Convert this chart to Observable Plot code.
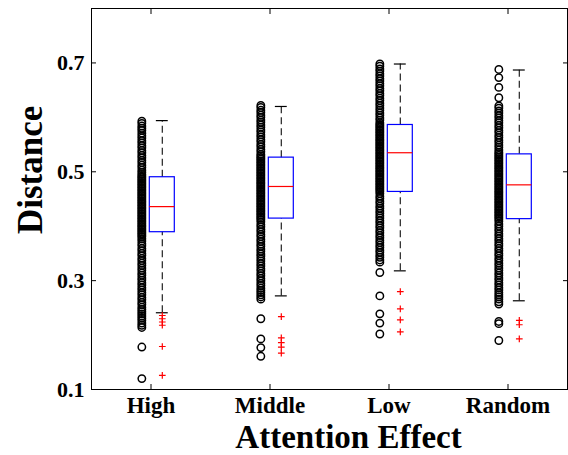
<!DOCTYPE html>
<html><head><meta charset="utf-8">
<script src="https://cdn.jsdelivr.net/npm/d3@7"></script>
<script src="https://cdn.jsdelivr.net/npm/@observablehq/plot@0.6"></script>
<style>body{margin:0;background:#fff} svg{display:block}</style>
</head><body><div id="chart"></div>
<script>
// ---- data ----
const categories = ["High", "Middle", "Low", "Random"];
const yTicks = [0.1, 0.3, 0.5, 0.7];
const q1 = [0.389, 0.414, 0.463, 0.413];
const median = [0.436, 0.473, 0.535, 0.476];
const q3 = [0.490, 0.526, 0.586, 0.532];
const whiskerLow = [0.241, 0.272, 0.318, 0.263];
const whiskerHigh = [0.594, 0.620, 0.698, 0.687];

const outliersHigh = [0.236, 0.230, 0.224, 0.218, 0.179, 0.126];
const outliersMiddle = [0.234, 0.195, 0.186, 0.178, 0.167];
const outliersLow = [0.280, 0.248, 0.228, 0.206];
const outliersRandom = [0.227, 0.219, 0.193];

const pointsHigh = [0.593,0.589,0.584,0.580,0.576,0.571,0.566,0.562,0.557,0.553,0.548,0.544,0.539,0.535,0.530,0.526,0.521,0.517,0.512,0.508,0.503,0.499,
0.495,0.492,0.489,0.486,0.483,0.480,0.477,0.474,0.471,0.468,0.465,0.462,0.459,0.456,0.453,0.450,0.447,0.444,0.441,0.438,0.435,0.432,0.429,0.426,0.423,0.420,0.417,0.414,0.411,0.408,0.405,0.402,0.399,0.396,0.393,0.390,0.387,0.384,0.381,
0.377,0.373,0.368,0.364,0.359,0.355,0.350,0.346,0.341,0.337,0.332,0.328,0.323,0.319,0.314,0.310,0.305,0.301,0.296,0.292,0.287,0.283,0.278,0.274,0.269,0.265,0.260,0.256,0.251,0.247,0.243,0.239,0.235,0.231,0.227,0.222,0.218,0.214,
0.178,0.120];
const pointsMiddle = [0.622,0.618,0.613,0.609,0.604,0.600,0.595,0.591,0.586,0.582,0.577,0.573,0.568,0.564,0.559,0.555,0.550,0.546,0.541,0.537,0.532,
0.529,0.526,0.523,0.520,0.517,0.514,0.511,0.508,0.505,0.502,0.499,0.496,0.493,0.490,0.487,0.484,0.481,0.478,0.475,0.472,0.469,0.466,0.463,0.460,0.457,0.454,0.451,0.448,0.445,0.442,0.439,0.436,0.433,0.430,0.427,0.424,0.421,0.418,0.415,0.412,
0.408,0.403,0.399,0.394,0.390,0.385,0.381,0.376,0.372,0.367,0.363,0.358,0.354,0.349,0.345,0.340,0.336,0.331,0.327,0.322,0.318,0.313,0.309,0.304,0.300,0.295,0.291,0.286,0.282,0.278,0.274,0.270,0.266,
0.230,0.193,0.177,0.161];
const pointsLow = [0.698,0.694,0.689,0.685,0.680,0.676,0.671,0.667,0.662,0.658,0.653,0.649,0.644,0.640,0.635,0.631,0.626,0.622,0.617,0.613,0.608,0.604,0.599,0.595,0.590,
0.587,0.584,0.581,0.578,0.575,0.572,0.569,0.566,0.563,0.560,0.557,0.554,0.551,0.548,0.545,0.542,0.539,0.536,0.533,0.530,0.527,0.524,0.521,0.518,0.515,0.512,0.509,0.506,0.503,0.500,0.497,0.494,0.491,0.488,0.485,0.482,0.479,0.476,0.473,0.470,0.467,0.464,
0.460,0.455,0.451,0.446,0.442,0.437,0.433,0.428,0.424,0.419,0.415,0.410,0.406,0.401,0.397,0.392,0.388,0.383,0.379,0.374,0.370,0.365,0.361,0.356,0.352,0.347,0.343,0.338,0.334,
0.315,0.272,0.239,0.222,0.202];
const pointsRandom = [0.688,0.673,0.655,0.636,
0.621,0.617,0.612,0.608,0.603,0.599,0.594,0.590,0.585,0.581,0.576,0.572,0.567,0.563,0.558,0.554,0.549,0.545,0.540,0.536,
0.533,0.530,0.527,0.524,0.521,0.518,0.515,0.512,0.509,0.506,0.503,0.500,0.497,0.494,0.491,0.488,0.485,0.482,0.479,0.476,0.473,0.470,0.467,0.464,0.461,0.458,0.455,0.452,0.449,0.446,0.443,0.440,0.437,0.434,0.431,0.428,0.425,0.422,0.419,0.416,0.413,
0.409,0.404,0.400,0.395,0.391,0.386,0.382,0.377,0.373,0.368,0.364,0.359,0.355,0.350,0.346,0.341,0.337,0.332,0.328,0.323,0.319,0.314,0.310,0.305,0.301,0.296,0.292,0.287,0.283,0.278,0.274,0.270,0.266,0.261,0.257,
0.225,0.221,0.190];

// ---- derived tables ----
const positions = categories.map((c, i) => i + 1);
const boxes = categories.map((c, i) => ({pos: i + 1, q1: q1[i], median: median[i], q3: q3[i], lo: whiskerLow[i], hi: whiskerHigh[i]}));
const points = [pointsHigh, pointsMiddle, pointsLow, pointsRandom].flatMap((arr, i) => arr.map(v => ({pos: i + 1, v})));
const outliers = [outliersHigh, outliersMiddle, outliersLow, outliersRandom].flatMap((arr, i) => arr.map(v => ({pos: i + 1, v})));

// layout offsets (in category units)
const BOX_L = -0.01, BOX_R = 0.2, WHISK = 0.095, CAP = 0.05, DOT = -0.077;
const font = "'Liberation Serif', 'Times New Roman', serif";

const chart = Plot.plot({
  width: 568, height: 455,
  marginLeft: 91, marginRight: 1, marginTop: 8, marginBottom: 66,
  style: {fontFamily: font, background: "white", color: "black"},
  x: {domain: [0.5, 4.5]},
  y: {domain: [0.1, 0.8]},
  marks: [
    Plot.ruleX(boxes, {x: d => d.pos + WHISK, y1: "q3", y2: "hi", stroke: "#222", strokeWidth: 1.2, strokeDasharray: "7,4"}),
    Plot.ruleX(boxes, {x: d => d.pos + WHISK, y1: "lo", y2: "q1", stroke: "#222", strokeWidth: 1.2, strokeDasharray: "7,4"}),
    Plot.ruleY(boxes, {y: "hi", x1: d => d.pos + WHISK - CAP, x2: d => d.pos + WHISK + CAP, stroke: "black", strokeWidth: 1.2}),
    Plot.ruleY(boxes, {y: "lo", x1: d => d.pos + WHISK - CAP, x2: d => d.pos + WHISK + CAP, stroke: "black", strokeWidth: 1.2}),
    Plot.rect(boxes, {x1: d => d.pos + BOX_L, x2: d => d.pos + BOX_R, y1: "q1", y2: "q3", fill: "none", stroke: "#0000ff", strokeWidth: 1.2}),
    Plot.ruleY(boxes, {y: "median", x1: d => d.pos + BOX_L, x2: d => d.pos + BOX_R, stroke: "#ff0000", strokeWidth: 1.2}),
    Plot.dot(points, {x: d => d.pos + DOT, y: "v", r: 3.7, stroke: "black", strokeWidth: 1.5, fill: "none"}),
    Plot.dot(outliers, {x: d => d.pos + WHISK, y: "v", symbol: "plus", r: 2.3, stroke: "#ff0000", strokeWidth: 1.2}),
    Plot.frame({stroke: "black", strokeWidth: 1}),
    Plot.axisX({ticks: positions, tickFormat: i => categories[i - 1], tickSize: -5, tickPadding: 12, fontSize: 23, fontWeight: "bold", label: null}),
    Plot.axisX({anchor: "top", ticks: positions, tickFormat: () => "", tickSize: -5, label: null}),
    Plot.axisY({ticks: yTicks, tickFormat: d => d.toFixed(1), tickSize: -5, tickPadding: 12, fontSize: 22, fontWeight: "bold", label: null}),
    Plot.axisY({anchor: "right", ticks: yTicks, tickFormat: () => "", tickSize: -5, label: null}),
    Plot.text(["Attention Effect"], {text: d => d, frameAnchor: "bottom", dx: 19, dy: 58, fontSize: 33, fontWeight: "bold", lineAnchor: "bottom"}),
    Plot.text(["Distance"], {text: d => d, frameAnchor: "left", rotate: -90, dx: -61, dy: 35, fontSize: 35, fontWeight: "bold", lineAnchor: "middle"})
  ]
});
document.getElementById("chart").appendChild(chart);
</script>
</body></html>
